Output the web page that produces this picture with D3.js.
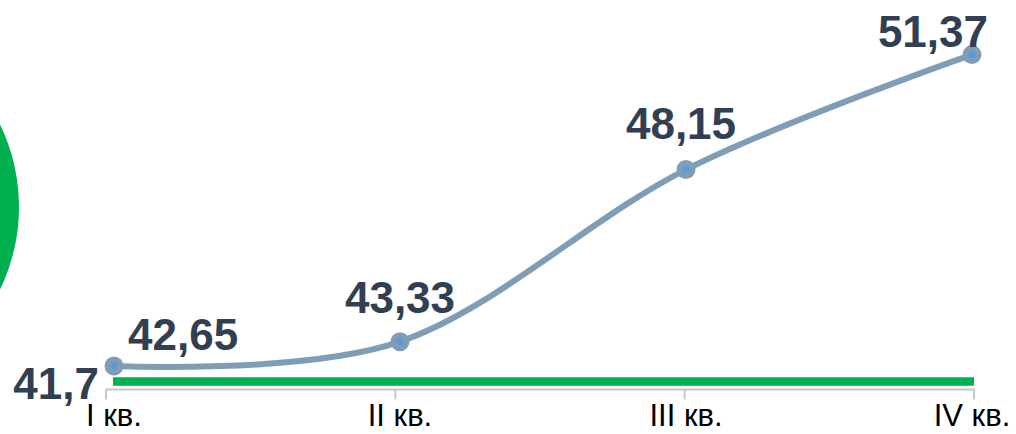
<!DOCTYPE html>
<html><head><meta charset="utf-8">
<script src="https://cdn.jsdelivr.net/npm/d3@7"></script>
<style>
html,body{margin:0;padding:0;background:#fff;overflow:hidden;}
svg{display:block;}
</style></head>
<body>
<svg id="chart" width="1016" height="434"></svg>
<script>
const categories = ["I кв.", "II кв.", "III кв.", "IV кв."];
const values = [42.65, 43.33, 48.15, 51.37];
const valueLabels = ["42,65", "43,33", "48,15", "51,37"];
const baselineValue = 41.7;
const baselineLabel = "41,7";

const W = 1016, H = 434;
const svg = d3.select("#chart");

// decorative green circle at left edge
svg.append("circle").attr("cx", -170).attr("cy", 207).attr("r", 189).attr("fill", "#00b050");

const x = d3.scalePoint().domain(categories).range([114, 972]);
const xTick = d3.scalePoint().domain(categories).range([106, 974]);
const y = d3.scaleLinear().domain([40, 52]).range([460.6, 32.1]);
const axisY = 389.5;

// axis line and ticks
svg.append("line").attr("x1", xTick.range()[0]).attr("x2", xTick.range()[1])
  .attr("y1", axisY).attr("y2", axisY).attr("stroke", "#c6c6c6").attr("stroke-width", 2);
svg.selectAll("line.tick").data(categories).enter().append("line")
  .attr("class", "tick")
  .attr("x1", d => xTick(d)).attr("x2", d => xTick(d))
  .attr("y1", axisY).attr("y2", axisY + 10)
  .attr("stroke", "#c6c6c6").attr("stroke-width", 2);

// category labels
svg.selectAll("text.cat").data(categories).enter().append("text")
  .attr("class", "cat")
  .attr("x", d => x(d)).attr("y", 426)
  .attr("text-anchor", "middle")
  .attr("font-family", "Liberation Sans, Arial, sans-serif")
  .attr("font-size", 31).attr("fill", "#000")
  .text(d => d);

// green baseline (41,7)
svg.append("line")
  .attr("x1", x(categories[0]) - 1).attr("x2", xTick(categories[3]))
  .attr("y1", axisY - 8).attr("y2", axisY - 8)
  .attr("stroke", "#00b050").attr("stroke-width", 8.5).attr("stroke-linecap", "butt");

// smoothed line
const pts = categories.map((c, i) => [x(c), y(values[i])]);
svg.append("path")
  .attr("d", d3.line().curve(d3.curveCardinal.tension(0))(pts))
  .attr("fill", "none").attr("stroke", "#7f9db6").attr("stroke-width", 6)
  .attr("stroke-linecap", "round");

// markers
svg.selectAll("circle.m").data(pts).enter().append("circle")
  .attr("class", "m").attr("cx", d => d[0]).attr("cy", d => d[1])
  .attr("r", 9.5).attr("fill", "#7f9db6");
svg.selectAll("circle.mi").data(pts).enter().append("circle")
  .attr("class", "mi").attr("cx", d => d[0]).attr("cy", d => d[1])
  .attr("r", 3.6).attr("fill", "#5b9bd5");

// value labels
const labelStyle = [
  {dx: 14, dy: -16, anchor: "start"},
  {dx: 0, dy: -29, anchor: "middle"},
  {dx: -5, dy: -31, anchor: "middle"},
  {dx: 16, dy: -8, anchor: "end"}
];
const font = "Liberation Sans, Arial, sans-serif";
svg.selectAll("text.val").data(pts).enter().append("text")
  .attr("class", "val")
  .attr("x", (d, i) => d[0] + labelStyle[i].dx)
  .attr("y", (d, i) => d[1] + labelStyle[i].dy)
  .attr("text-anchor", (d, i) => labelStyle[i].anchor)
  .attr("font-family", font).attr("font-weight", "bold")
  .attr("font-size", 44).attr("fill", "#323f52")
  .text((d, i) => valueLabels[i]);

svg.append("text")
  .attr("x", x(categories[0]) - 15).attr("y", axisY + 9.5)
  .attr("text-anchor", "end")
  .attr("font-family", font).attr("font-weight", "bold")
  .attr("font-size", 44).attr("fill", "#323f52")
  .text(baselineLabel);
</script>
</body></html>
